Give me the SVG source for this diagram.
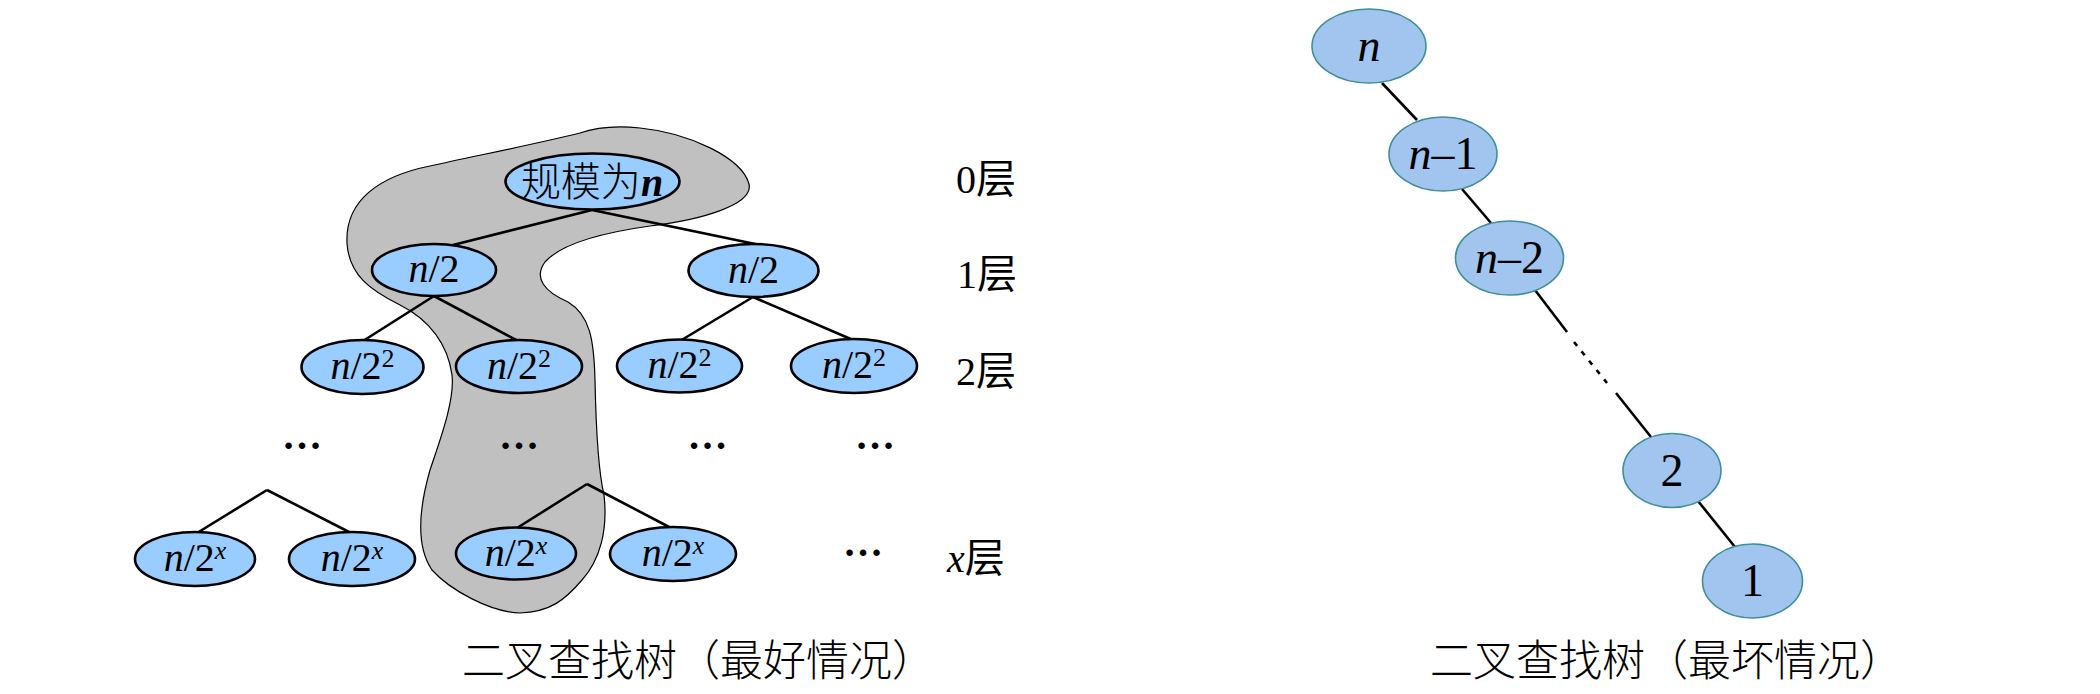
<svg xmlns="http://www.w3.org/2000/svg" width="2100" height="694" viewBox="0 0 2100 694">
<style>
.t{font-family:"Liberation Serif","Noto Sans CJK SC",serif;fill:#000}
.cjk{font-family:"Noto Sans CJK SC",sans-serif;fill:#000;font-weight:300}
.lnode ellipse{fill:#99ccff;stroke:#000;stroke-width:2.6}
.rnode ellipse{fill:#a2c5f0;stroke:#3f8f98;stroke-width:1.6}
.lt{font-size:40px;text-anchor:middle}
.rt{font-size:46px;text-anchor:middle}
.i{font-style:italic}
.sup{font-size:26px}
.edges line{stroke:#000;stroke-width:2.6;stroke-linecap:butt}
.dots{font-size:40px;font-weight:bold;text-anchor:middle}
.lvl{font-size:40px}
</style>
<rect width="2100" height="694" fill="#fff"/>
<path id="blob" d="M347,243 C345,200 380,176 430,166 C480,155 540,143 580,133 C600,126 620,126 640,128 C690,133 742,158 749,184 C754,205 700,220 650,226 C600,233 560,245 545,262 C533,278 545,292 568,302 C590,315 594,340 595,380 C596,430 598,470 604,495 C608,530 600,560 582,580 C565,600 550,612 520,613 C490,612 450,590 432,570 C415,545 420,505 430,470 C440,440 455,400 452,375 C448,345 430,320 400,305 C370,290 349,275 347,243 Z" fill="#c0c0c0" stroke="#000" stroke-width="1.2"/>
<g id="connectors" class="edges">
<line x1="592" y1="210" x2="453" y2="245"/>
<line x1="592" y1="210" x2="760" y2="245"/>
<line x1="434" y1="296" x2="363" y2="341"/>
<line x1="434" y1="296" x2="518" y2="341"/>
<line x1="753" y1="297" x2="680" y2="341"/>
<line x1="753" y1="297" x2="853" y2="340"/>
<line x1="267" y1="490" x2="197" y2="533"/>
<line x1="267" y1="490" x2="351" y2="533"/>
<line x1="587" y1="484" x2="517" y2="528"/>
<line x1="587" y1="484" x2="671" y2="528"/>
<line x1="1382" y1="83" x2="1417" y2="120"/>
<line x1="1462" y1="189" x2="1491" y2="223"/>
<line x1="1535" y1="290" x2="1567" y2="332"/>
<line x1="1574" y1="342" x2="1607" y2="383" stroke-dasharray="5 7" stroke-width="3"/>
<line x1="1616" y1="393" x2="1651" y2="437"/>
<line x1="1698" y1="501" x2="1735" y2="547"/>
</g>
<g id="root" class="lnode"><ellipse cx="592.5" cy="181.5" rx="87" ry="28"/><text class="t" x="592" y="196" text-anchor="middle" font-size="40"><tspan class="cjk" font-weight="400">规模为</tspan><tspan class="i" font-weight="bold">n</tspan></text></g>
<g id="l1a" class="lnode"><ellipse cx="434" cy="270" rx="62" ry="26"/><text class="t lt" x="434" y="282"><tspan class="i">n</tspan>/2</text></g>
<g id="l1b" class="lnode"><ellipse cx="753.5" cy="270.5" rx="65" ry="26.5"/><text class="t lt" x="753.5" y="282.5"><tspan class="i">n</tspan>/2</text></g>
<g id="l2a" class="lnode"><ellipse cx="362.5" cy="367" rx="61" ry="27"/><text class="t lt" x="362.5" y="379"><tspan class="i">n</tspan>/2<tspan class="sup" dy="-12">2</tspan></text></g>
<g id="l2b" class="lnode"><ellipse cx="519" cy="366.5" rx="63" ry="26.5"/><text class="t lt" x="519" y="378.5"><tspan class="i">n</tspan>/2<tspan class="sup" dy="-12">2</tspan></text></g>
<g id="l2c" class="lnode"><ellipse cx="679.5" cy="366" rx="62.5" ry="26.5"/><text class="t lt" x="679.5" y="378"><tspan class="i">n</tspan>/2<tspan class="sup" dy="-12">2</tspan></text></g>
<g id="l2d" class="lnode"><ellipse cx="854" cy="366" rx="63" ry="27"/><text class="t lt" x="854" y="378"><tspan class="i">n</tspan>/2<tspan class="sup" dy="-12">2</tspan></text></g>
<g id="lxa" class="lnode"><ellipse cx="195" cy="559" rx="60" ry="27"/><text class="t lt" x="195" y="571"><tspan class="i">n</tspan>/2<tspan class="sup i" dy="-12">x</tspan></text></g>
<g id="lxb" class="lnode"><ellipse cx="352" cy="559" rx="63" ry="27"/><text class="t lt" x="352" y="571"><tspan class="i">n</tspan>/2<tspan class="sup i" dy="-12">x</tspan></text></g>
<g id="lxc" class="lnode"><ellipse cx="516" cy="553.5" rx="60" ry="26"/><text class="t lt" x="516" y="565.5"><tspan class="i">n</tspan>/2<tspan class="sup i" dy="-12">x</tspan></text></g>
<g id="lxd" class="lnode"><ellipse cx="673" cy="554" rx="63" ry="27"/><text class="t lt" x="673" y="566"><tspan class="i">n</tspan>/2<tspan class="sup i" dy="-12">x</tspan></text></g>
<g id="ellipses">
<text class="t dots" x="302" y="449">…</text>
<text class="t dots" x="519" y="449">…</text>
<text class="t dots" x="707.5" y="449">…</text>
<text class="t dots" x="875" y="449">…</text>
<text class="t dots" x="863" y="556">…</text>
</g>
<g id="levels">
<text class="t lvl" x="956" y="193">0层</text>
<text class="t lvl" x="957" y="288">1层</text>
<text class="t lvl" x="956" y="385">2层</text>
<text class="t lvl" x="947" y="572"><tspan class="i">x</tspan>层</text>
</g>
<g id="rn" class="rnode"><ellipse cx="1369" cy="46" rx="57" ry="37"/><text class="t rt i" x="1369" y="61">n</text></g>
<g id="rn1" class="rnode"><ellipse cx="1443" cy="154" rx="54" ry="37"/><text class="t rt" x="1443" y="169"><tspan class="i">n</tspan>–1</text></g>
<g id="rn2" class="rnode"><ellipse cx="1509.5" cy="258" rx="54" ry="37"/><text class="t rt" x="1509.5" y="273"><tspan class="i">n</tspan>–2</text></g>
<g id="r2" class="rnode"><ellipse cx="1672" cy="470.5" rx="49" ry="37"/><text class="t rt" x="1672" y="485.5">2</text></g>
<g id="r1" class="rnode"><ellipse cx="1752.5" cy="581" rx="50" ry="37"/><text class="t rt" x="1752.5" y="596">1</text></g>
<g id="captions">
<text class="cjk" x="462" y="676" font-size="43">二叉查找树（最好情况）</text>
<text class="cjk" x="1430" y="676" font-size="43">二叉查找树（最坏情况）</text>
</g>
</svg>
